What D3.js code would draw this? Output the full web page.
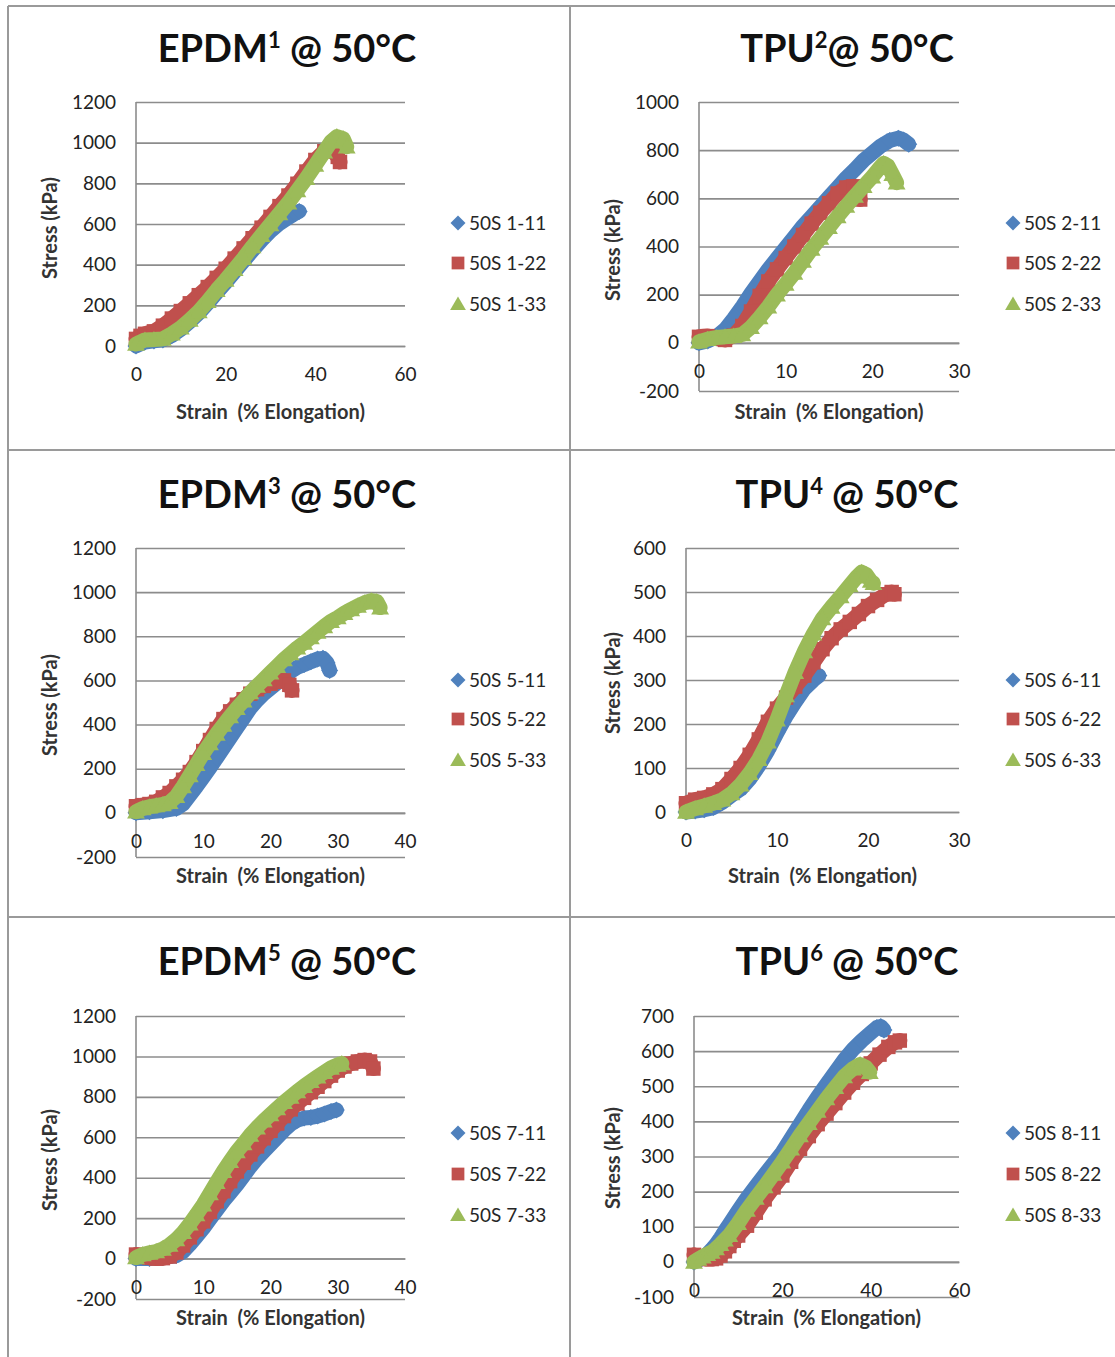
<!DOCTYPE html>
<html><head><meta charset="utf-8">
<script src="https://cdn.jsdelivr.net/npm/d3@7"></script>
<style>
body{margin:0;background:#fff;}
svg{display:block;font-family:Lato,"Open Sans",sans-serif;}
</style></head><body>
<svg id="c" width="1115" height="1357"></svg>
<script>
// ---------------- DATA (strain %, stress kPa) ----------------
const e1_11 = [[0,0],[2,20],[4,25],[6,30],[8,52],[10,82],[12,120],[14,162],[16,210],[18,262],[20,312],[22,365],[24,418],[26,470],[28,520],[30,565],[32,603],[34,632],[35.5,652],[36.4,662]];
const e1_22 = [[0,35],[1,50],[2,60],[4,72],[6,100],[8,135],[10,172],[12,210],[14,250],[16,290],[18,335],[20,380],[22,430],[24,480],[26,530],[28,582],[30,635],[32,688],[34,740],[36,798],[38,858],[40,915],[42,958],[43.5,968],[45,930],[45.5,905]];
const e1_33 = [[0,10],[2,30],[4,32],[6,35],[8,60],[10,90],[12,128],[14,170],[16,220],[18,275],[20,325],[22,378],[24,432],[26,490],[28,545],[30,598],[32,652],[34,705],[36,765],[38,825],[40,890],[42,955],[43.5,1005],[44.8,1030],[46.2,1020],[47,980]];

const t2_11 = [[0,0],[1,8],[2,25],[3,55],[4,100],[5,150],[6,205],[7,255],[8,305],[9,350],[10,395],[11,440],[12,485],[13,525],[14,565],[15,605],[16,645],[17,685],[18,720],[19,758],[20,788],[21,818],[22,840],[23,850],[23.6,842],[24.2,825]];
const t2_22 = [[0,25],[1,28],[2,18],[3,12],[4,30],[5,70],[6,130],[7,195],[8,255],[9,305],[10,352],[11,400],[12,448],[13,495],[14,540],[15,580],[16,620],[17,645],[17.8,650],[18.4,615],[18.6,595]];
const t2_33 = [[0,5],[1,15],[2,22],[3,25],[4,28],[5,35],[6,65],[7,105],[8,150],[9,200],[10,245],[11,290],[12,340],[13,390],[14,435],[15,480],[16,525],[17,568],[18,610],[19,650],[20,690],[20.8,725],[21.3,745],[21.8,735],[22.3,700],[22.8,665]];

const e3_11 = [[0,0],[2,5],[4,10],[6,20],[7,40],[8,80],[9,120],[10,162],[11,205],[12,250],[13,295],[14,340],[15,385],[16,430],[17,475],[18,510],[19,540],[20,565],[21,590],[22,615],[23,640],[24,660],[25,672],[26,685],[27,697],[27.8,700],[28.4,680],[28.8,645]];
const e3_22 = [[0,30],[1,35],[2,40],[3,50],[4,70],[5,90],[6,120],[7,150],[8,185],[9,230],[10,280],[11,330],[12,380],[13,425],[14,460],[15,490],[16,515],[17,540],[18,560],[19,575],[20,585],[21,595],[22,600],[22.8,580],[23.2,555]];
const e3_33 = [[0,5],[1,20],[2,28],[3,33],[4,38],[5,48],[6,75],[7,120],[8,170],[9,220],[10,270],[11,315],[12,358],[13,398],[14,437],[15,474],[16,508],[17,545],[18,575],[19,605],[20,635],[21,665],[22,695],[23,722],[24,748],[25,770],[26,795],[27,820],[28,845],[29,868],[30,885],[31,905],[32,922],[33,938],[34,952],[35,962],[35.8,958],[36.3,930]];

const t4_11 = [[0,0],[1,2],[2,5],[3,10],[4,22],[5,38],[6,52],[7,75],[8,105],[9,140],[10,180],[11,218],[12,250],[13,280],[14,300],[14.6,310]];
const t4_22 = [[0,20],[1,28],[2,32],[3,40],[4,52],[5,75],[6,100],[7,130],[8,165],[9,205],[10,235],[11,260],[12,285],[13,310],[14,340],[15,370],[16,395],[17,415],[18,432],[19,450],[20,468],[21,482],[22,495],[22.6,500],[22.9,495]];
const t4_33 = [[0,0],[1,8],[2,14],[3,20],[4,28],[5,42],[6,62],[7,88],[8,120],[9,160],[10,210],[11,265],[12,318],[13,365],[14,405],[15,440],[16,466],[17,490],[18,515],[18.8,535],[19.3,545],[19.8,540],[20.3,525],[20.6,520]];

const e5_11 = [[0,0],[2,0],[4,5],[6,15],[7,35],[8,70],[9,110],[10,150],[11,195],[12,240],[13,285],[14,325],[15,365],[16,410],[17,455],[18,495],[19,530],[20,565],[21,600],[22,635],[23,665],[24,685],[25,695],[26,698],[27,705],[28,715],[29,728],[29.8,735]];
const e5_22 = [[0,20],[1,10],[2,5],[3,0],[4,2],[5,10],[6,30],[7,65],[8,105],[9,145],[10,184],[11,232],[12,283],[13,333],[14,383],[15,431],[16,474],[17,515],[18,555],[19,595],[20,632],[21,668],[22,705],[23,738],[24,767],[25,795],[26,823],[27,850],[28,878],[29,905],[30,930],[31,950],[32,965],[33,975],[34,982],[34.8,975],[35.3,940]];
const e5_33 = [[0,5],[1,20],[2,28],[3,35],[4,48],[5,68],[6,95],[7,130],[8,172],[9,218],[10,267],[11,322],[12,378],[13,432],[14,482],[15,530],[16,570],[17,612],[18,648],[19,682],[20,713],[21,743],[22,773],[23,800],[24,827],[25,853],[26,877],[27,900],[28,922],[29,943],[30,958],[30.6,965]];

const t6_11 = [[0,0],[1,5],[2,12],[3,22],[4,35],[5,50],[6,68],[7,88],[8,107],[10,145],[12,182],[14,215],[16,248],[18,280],[20,312],[22,352],[24,392],[26,432],[28,470],[30,505],[32,540],[34,575],[36,605],[38,630],[40,652],[41.4,667],[42.3,670],[43,660]];
const t6_22 = [[0,20],[1,15],[2,10],[3,8],[4,8],[5,10],[6,18],[7,30],[8,45],[9,60],[10,75],[12,103],[14,140],[16,178],[18,212],[20,246],[22,285],[24,322],[26,358],[28,392],[30,422],[32,452],[34,482],[36,510],[38,535],[40,565],[42,590],[44,612],[45.5,625],[46.6,630]];
const t6_33 = [[0,0],[1,8],[2,15],[3,22],[4,28],[5,38],[6,50],[7,63],[8,76],[10,110],[12,148],[14,182],[16,215],[18,250],[20,285],[22,322],[24,360],[26,395],[28,430],[30,465],[32,497],[34,528],[36,550],[37.6,562],[38.8,555],[39.8,540]];

// tick labels
const xTicks60 = [0,20,40,60];
const xTicks30 = [0,10,20,30];
const xTicks40 = [0,10,20,30,40];
const yTicks1 = [0,200,400,600,800,1000,1200];
const yTicks2 = [-200,0,200,400,600,800,1000];
const yTicks3 = [-200,0,200,400,600,800,1000,1200];
const yTicks4 = [0,100,200,300,400,500,600];
const yTicks6 = [-100,0,100,200,300,400,500,600,700];

// legend labels
const leg1 = ["50S 1-11","50S 1-22","50S 1-33"];
const leg2 = ["50S 2-11","50S 2-22","50S 2-33"];
const leg3 = ["50S 5-11","50S 5-22","50S 5-33"];
const leg4 = ["50S 6-11","50S 6-22","50S 6-33"];
const leg5 = ["50S 7-11","50S 7-22","50S 7-33"];
const leg6 = ["50S 8-11","50S 8-22","50S 8-33"];

// titles
const titles = [["EPDM","1"," @ 50°C"],["TPU","2","@ 50°C"],["EPDM","3"," @ 50°C"],["TPU","4"," @ 50°C"],["EPDM","5"," @ 50°C"],["TPU","6"," @ 50°C"]];

// ---------------- LAYOUT ----------------
const COLORS = ["#4F81BD","#C0504D","#9BBB59"];
const SHAPES = ["diamond","square","triangle"];

const panels = [
  {t:titles[0], tx:287, ty:62, xr:[136,405], yr:[346,102], xd:[0,60], yd:[0,1200], xt:xTicks60, yt:yTicks1, ytx:50, yty:228, xty:412, lx:458, ly:[223,263,304], leg:leg1, s:[e1_11,e1_22,e1_33]},
  {t:titles[1], tx:847, ty:62, xr:[699,959], yr:[391,102], xd:[0,30], yd:[-200,1000], xt:xTicks30, yt:yTicks2, ytx:613, yty:250, xty:412, lx:1013, ly:[223,263,304], leg:leg2, s:[t2_11,t2_22,t2_33]},
  {t:titles[2], tx:287, ty:508, xr:[136,405], yr:[857,548], xd:[0,40], yd:[-200,1200], xt:xTicks40, yt:yTicks3, ytx:50, yty:705, xty:876, lx:458, ly:[680,719,760], leg:leg3, s:[e3_11,e3_22,e3_33]},
  {t:titles[3], tx:847, ty:508, xr:[686,959], yr:[812,548], xd:[0,30], yd:[0,600], xt:xTicks30, yt:yTicks4, ytx:613, yty:683, xty:876, lx:1013, ly:[680,719,760], leg:leg4, s:[t4_11,t4_22,t4_33]},
  {t:titles[4], tx:287, ty:975, xr:[136,405], yr:[1299,1016], xd:[0,40], yd:[-200,1200], xt:xTicks40, yt:yTicks3, ytx:50, yty:1160, xty:1318, lx:458, ly:[1133,1174,1215], leg:leg5, s:[e5_11,e5_22,e5_33]},
  {t:titles[5], tx:847, ty:975, xr:[694,959], yr:[1297,1016], xd:[0,60], yd:[-100,700], xt:xTicks60, yt:yTicks6, ytx:613, yty:1158, xty:1318, lx:1013, ly:[1133,1174,1215], leg:leg6, s:[t6_11,t6_22,t6_33]}
];

function shapePath(shape, r){
  if(shape==="diamond") return `M0,${-r}L${r},0L0,${r}L${-r},0Z`;
  if(shape==="square") return `M${-r*0.85},${-r*0.85}H${r*0.85}V${r*0.85}H${-r*0.85}Z`;
  return `M0,${-r}L${r*1.05},${r*0.8}L${-r*1.05},${r*0.8}Z`;
}
const fmt = d => String(d);

const svg = d3.select("#c");
svg.append("rect").attr("width",1115).attr("height",1357).attr("fill","#fff");

// frame lines
const frame = svg.append("g").attr("stroke","#9a9a9a").attr("stroke-width",2).attr("fill","none");
frame.append("line").attr("x1",8).attr("x2",1115).attr("y1",6).attr("y2",6);
frame.append("line").attr("x1",8).attr("x2",8).attr("y1",6).attr("y2",1357);
frame.append("line").attr("x1",570).attr("x2",570).attr("y1",6).attr("y2",1357);
frame.append("line").attr("x1",8).attr("x2",1115).attr("y1",450).attr("y2",450);
frame.append("line").attr("x1",8).attr("x2",1115).attr("y1",917).attr("y2",917);

panels.forEach(p=>{
  const g = svg.append("g");
  const x = d3.scaleLinear().domain(p.xd).range(p.xr);
  const y = d3.scaleLinear().domain(p.yd).range(p.yr);

  // title
  const tt = g.append("text").attr("x",p.tx).attr("y",p.ty).attr("text-anchor","middle")
    .attr("font-size",38).attr("font-weight","bold").attr("fill","#111");
  tt.append("tspan").text(p.t[0]);
  tt.append("tspan").attr("font-size",22).attr("dy",-14).text(p.t[1]);
  tt.append("tspan").attr("dy",14).text(p.t[2]);

  // gridlines
  const grid = g.append("g").attr("transform",`translate(${p.xr[0]},0)`)
    .call(d3.axisLeft(y).tickValues(p.yt).tickSize(-(p.xr[1]-p.xr[0])).tickFormat(""));
  grid.select(".domain").remove();
  grid.selectAll("line").attr("stroke","#8c8c8c").attr("stroke-width",1.6);

  // y axis line
  g.append("line").attr("x1",p.xr[0]).attr("x2",p.xr[0]).attr("y1",p.yr[1]).attr("y2",p.yr[0])
    .attr("stroke","#8c8c8c").attr("stroke-width",1.6);

  // y tick labels
  const ya = g.append("g").attr("transform",`translate(${p.xr[0]},0)`)
    .call(d3.axisLeft(y).tickValues(p.yt).tickSize(0).tickPadding(20).tickFormat(fmt));
  ya.select(".domain").remove();
  ya.selectAll("text").attr("font-size",19).attr("font-family","Lato, 'Open Sans', sans-serif").attr("fill","#222");

  // x axis (at y=0)
  const xa = g.append("g").attr("transform",`translate(0,${y(0)})`)
    .call(d3.axisBottom(x).tickValues(p.xt).tickSize(0).tickPadding(22).tickFormat(fmt));
  xa.select(".domain").attr("stroke","#8c8c8c").attr("stroke-width",1.6);
  xa.selectAll("text").attr("font-size",19).attr("font-family","Lato, 'Open Sans', sans-serif").attr("fill","#222");

  // axis titles
  g.append("text").attr("transform",`translate(${p.ytx},${p.yty}) rotate(-90)`).attr("text-anchor","middle")
    .attr("dy","0.35em").attr("font-size",20).attr("font-weight","bold").attr("fill","#333").text("Stress (kPa)");
  g.append("text").attr("x",(p.xr[0]+p.xr[1])/2).attr("y",p.xty).attr("dy","0.35em").attr("text-anchor","middle")
    .attr("font-size",20).attr("font-weight","bold").attr("fill","#333").style("white-space","pre").text("Strain  (% Elongation)");

  // series
  const line = d3.line().x(d=>x(d[0])).y(d=>y(d[1]));
  p.s.forEach((pts,i)=>{
    g.append("path").attr("d",line(pts)).attr("fill","none").attr("stroke",COLORS[i])
      .attr("stroke-width",15).attr("stroke-linejoin","round").attr("stroke-linecap","round");
    g.selectAll(null).data(pts).enter().append("path")
      .attr("transform",d=>`translate(${x(d[0])},${y(d[1])})`)
      .attr("d",shapePath(SHAPES[i],8.5)).attr("fill",COLORS[i]);
  });

  // legend
  p.leg.forEach((lab,i)=>{
    g.append("path").attr("transform",`translate(${p.lx},${p.ly[i]})`).attr("d",shapePath(SHAPES[i],7.5)).attr("fill",COLORS[i]);
    g.append("text").attr("x",p.lx+11).attr("y",p.ly[i]).attr("dy","0.35em").attr("font-size",19)
      .attr("fill","#262626").text(lab);
  });
});
</script>
</body></html>
